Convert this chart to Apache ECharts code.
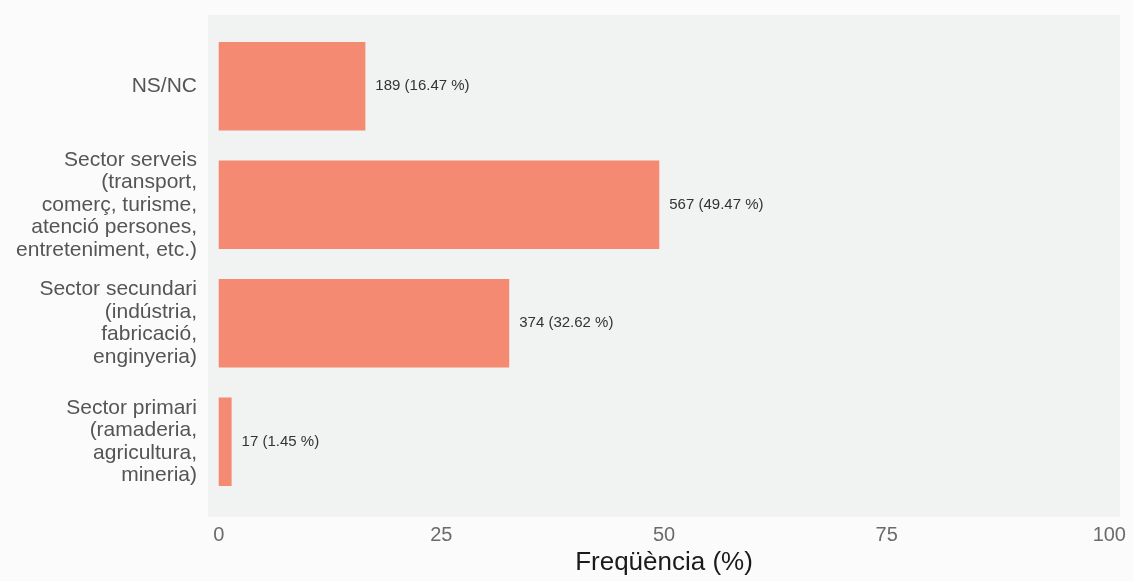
<!DOCTYPE html>
<html>
<head>
<meta charset="utf-8">
<script src="https://cdn.jsdelivr.net/npm/echarts@6/dist/echarts.min.js"></script>
<style>
html,body{margin:0;padding:0;background:#fbfbfb;}
#chart{width:1133px;height:581px;}
</style>
</head>
<body>
<div id="chart"></div>
<script>
const categories = [
  "NS/NC",
  "Sector serveis\n(transport,\ncomerç, turisme,\natenció persones,\nentreteniment, etc.)",
  "Sector secundari\n(indústria,\nfabricació,\nenginyeria)",
  "Sector primari\n(ramaderia,\nagricultura,\nmineria)"
];
const counts = [189, 567, 374, 17];
const percents = [16.47, 49.47, 32.62, 1.45];
const xTicks = [0, 25, 50, 75, 100];
const xTitle = "Freqüència (%)";

const FONT = "Liberation Sans, Arial, Helvetica, sans-serif";
const chart = echarts.init(document.getElementById('chart'));
chart.setOption({
  backgroundColor: '#fbfbfb',
  animation: false,
  textStyle: { fontFamily: FONT },
  grid: [
    { left: 208, right: 13, top: 15, bottom: 64, show: true, backgroundColor: '#f0f3f2', borderWidth: 0 },
    { left: 208, right: 13, top: 27, bottom: 76, show: false }
  ],
  xAxis: [
    { gridIndex: 0, type: 'value', show: false, min: 0, max: 1 },
    {
      gridIndex: 1, type: 'value', min: -1.2, max: 101.2,
      axisLine: { show: false }, axisTick: { show: false }, splitLine: { show: false },
      axisLabel: {
        margin: 24, fontSize: 20, color: '#6b6b6b', fontFamily: FONT,
        customValues: xTicks, formatter: v => String(v)
      },
      name: xTitle, nameLocation: 'middle', nameGap: 49,
      nameTextStyle: { fontSize: 26, color: '#1a1a1a', fontFamily: FONT }
    }
  ],
  yAxis: [
    { gridIndex: 0, type: 'value', show: false, min: 0, max: 1 },
    {
      gridIndex: 1, type: 'category', data: categories, inverse: true,
      axisLine: { show: false }, axisTick: { show: false }, splitLine: { show: false },
      axisLabel: { margin: 11, fontSize: 21, lineHeight: 22.5, color: '#555', fontFamily: FONT, align: 'right' }
    }
  ],
  series: [{
    type: 'bar', xAxisIndex: 1, yAxisIndex: 1,
    data: percents,
    barCategoryGap: '25.5%',
    itemStyle: { color: '#f48a71' },
    label: {
      show: true, position: 'right', distance: 10,
      fontSize: 15, color: '#333', fontFamily: FONT,
      formatter: p => counts[p.dataIndex] + ' (' + percents[p.dataIndex].toFixed(2) + ' %)'
    }
  }]
});
</script>
</body>
</html>
